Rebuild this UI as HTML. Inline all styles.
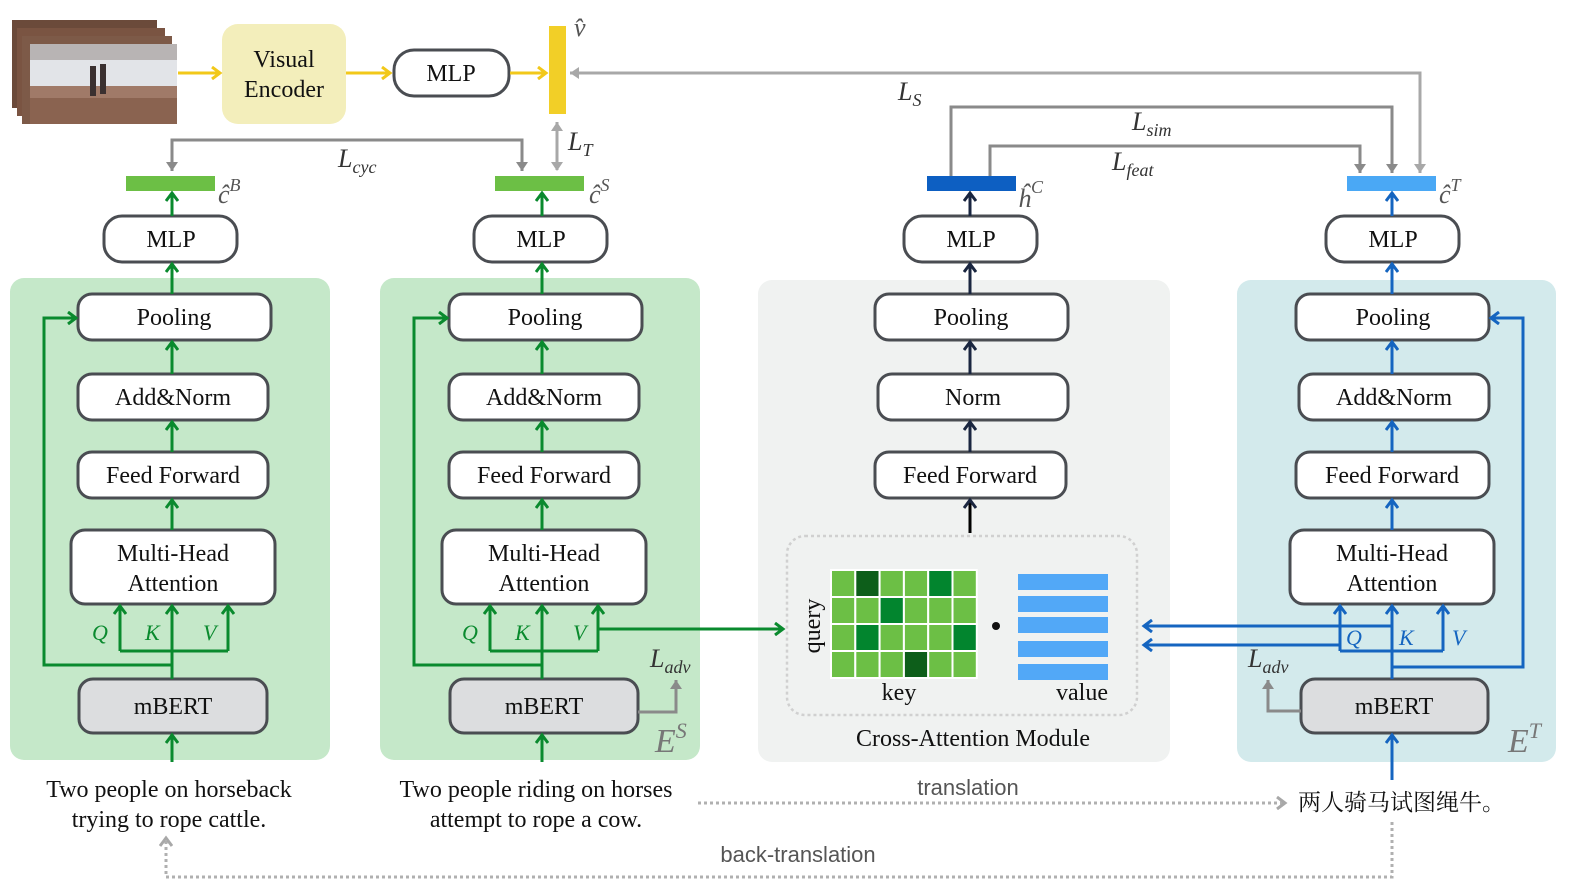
<!DOCTYPE html>
<html><head><meta charset="utf-8"><style>
html,body{margin:0;padding:0;background:#fff;overflow:hidden;width:1577px;height:894px}
svg{display:block}
.b{fill:#fff;stroke:#4a4d52;stroke-width:3}
.g{fill:#dcdddf;stroke:#4a4d52;stroke-width:3}
.t{font-family:"Liberation Serif",serif;font-size:24px;fill:#111;text-anchor:middle}
.i{font-family:"Liberation Serif",serif;font-style:italic}
.gr{stroke:#0a8a2e;stroke-width:3;fill:none}
.bl{stroke:#1565c0;stroke-width:3;fill:none}
.nv{stroke:#1a2640;stroke-width:3;fill:none}
.gy{stroke:#8a8a8a;stroke-width:3;fill:none}
.lg{stroke:#a8a8a8;stroke-width:3;fill:none}
.ye{stroke:#f2c81a;stroke-width:3;fill:none}
.dt{stroke:#b0b0b0;stroke-width:3;fill:none;stroke-dasharray:3 3}
</style></head><body>
<svg width="1577" height="894" viewBox="0 0 1577 894" xmlns="http://www.w3.org/2000/svg">
<defs>
<marker id="ag" markerWidth="14" markerHeight="14" refX="11" refY="7" orient="auto" markerUnits="userSpaceOnUse"><path d="M3,1 L11,7 L3,13" fill="none" stroke="#0a8a2e" stroke-width="3"/></marker>
<marker id="ab" markerWidth="14" markerHeight="14" refX="11" refY="7" orient="auto" markerUnits="userSpaceOnUse"><path d="M3,1 L11,7 L3,13" fill="none" stroke="#1565c0" stroke-width="3"/></marker>
<marker id="an" markerWidth="14" markerHeight="14" refX="11" refY="7" orient="auto" markerUnits="userSpaceOnUse"><path d="M3,1 L11,7 L3,13" fill="none" stroke="#1a2640" stroke-width="3"/></marker>
<marker id="ay" markerWidth="14" markerHeight="14" refX="11" refY="7" orient="auto" markerUnits="userSpaceOnUse"><path d="M3,1 L11,7 L3,13" fill="none" stroke="#f2c81a" stroke-width="3"/></marker>
<marker id="ay2" markerWidth="14" markerHeight="14" refX="11" refY="7" orient="auto" markerUnits="userSpaceOnUse"><path d="M2,1 L11,7 L2,13 Z" fill="#8a8a8a"/></marker>
<marker id="al" markerWidth="14" markerHeight="14" refX="11" refY="7" orient="auto" markerUnits="userSpaceOnUse"><path d="M2,1 L11,7 L2,13 Z" fill="#a8a8a8"/></marker>
<marker id="ald" markerWidth="14" markerHeight="14" refX="11" refY="7" orient="auto" markerUnits="userSpaceOnUse"><path d="M3,1 L11,7 L3,13" fill="none" stroke="#a8a8a8" stroke-width="3"/></marker>
<marker id="alds" markerWidth="14" markerHeight="14" refX="3" refY="7" orient="auto" markerUnits="userSpaceOnUse"><path d="M11,1 L2,7 L11,13 Z" fill="#a8a8a8"/></marker>
</defs>

<rect x="10" y="278" width="320" height="482" rx="14" fill="#c5e8c9"/>
<rect x="380" y="278" width="320" height="482" rx="14" fill="#c5e8c9"/>
<rect x="758" y="280" width="412" height="482" rx="14" fill="#f0f2f1"/>
<rect x="1237" y="280" width="319" height="482" rx="14" fill="#d3eaec"/>

<rect x="12" y="20" width="145" height="88" fill="#6b4a3a"/>
<rect x="17" y="28" width="148" height="88" fill="#7a5442"/>
<rect x="22" y="36" width="150" height="88" fill="#7d5a48"/>
<rect x="30" y="44" width="147" height="80" fill="#8a6350"/>
<rect x="30" y="44" width="147" height="16" fill="#b8b4b4"/>
<rect x="30" y="60" width="147" height="26" fill="#e2e4e8"/>
<rect x="30" y="86" width="147" height="12" fill="#a07a68"/>
<rect x="90" y="66" width="6" height="30" fill="#3a3030"/>
<rect x="100" y="64" width="6" height="30" fill="#3a3030"/>

<rect x="222" y="24" width="124" height="100" rx="16" fill="#f3eebb"/>
<text class="t" x="284" y="67">Visual</text>
<text class="t" x="284" y="97">Encoder</text>
<rect class="b" x="394" y="50" width="115" height="46" rx="20"/>
<text class="t" x="451" y="81">MLP</text>
<path class="ye" d="M178,73 L220,73" marker-end="url(#ay)"/>
<path class="ye" d="M346,73 L390,73" marker-end="url(#ay)"/>
<path class="ye" d="M510,73 L546,73" marker-end="url(#ay)"/>
<rect x="549" y="26" width="17" height="88" fill="#f2cf27"/>
<text class="i" x="574" y="36" font-size="26" fill="#555">v̂</text>

<path class="lg" d="M557,170 L557,122" marker-start="url(#alds)" marker-end="url(#al)"/>
<text class="i" x="568" y="150" font-size="26" fill="#333">L<tspan font-size="18" dy="6">T</tspan></text>

<path class="gy" d="M172,171 L172,140 L522,140 L522,171" marker-end="url(#ay2)"/>
<path class="gy" d="M180,140 L172,140 L172,171" marker-end="url(#ay2)"/>
<text class="i" x="338" y="167" font-size="26" fill="#333">L<tspan font-size="18" dy="6">cyc</tspan></text>

<path class="lg" d="M1420,173 L1420,73 L570,73" marker-end="url(#al)"/>
<path class="lg" d="M1420,90 L1420,173" marker-end="url(#al)"/>
<text class="i" x="898" y="100" font-size="26" fill="#333">L<tspan font-size="18" dy="6">S</tspan></text>
<path class="gy" d="M951,176 L951,107 L1392,107 L1392,173" marker-end="url(#ay2)"/>
<text class="i" x="1132" y="130" font-size="26" fill="#333">L<tspan font-size="18" dy="6">sim</tspan></text>
<path class="gy" d="M990,176 L990,146 L1360,146 L1360,173" marker-end="url(#ay2)"/>
<text class="i" x="1112" y="170" font-size="26" fill="#333">L<tspan font-size="18" dy="6">feat</tspan></text>

<rect x="126" y="176" width="89" height="15" fill="#6cbf45"/>
<text class="i" x="218" y="203" font-size="26" fill="#555">ĉ<tspan font-size="18" dy="-12">B</tspan></text>
<rect x="495" y="176" width="89" height="15" fill="#6cbf45"/>
<text class="i" x="589" y="203" font-size="26" fill="#555">ĉ<tspan font-size="18" dy="-12">S</tspan></text>
<rect x="927" y="176" width="89" height="15" fill="#0d5fc2"/>
<text class="i" x="1018" y="207" font-size="26" fill="#555">ĥ<tspan font-size="18" dy="-14">C</tspan></text>
<rect x="1347" y="176" width="89" height="15" fill="#4aa8f5"/>
<text class="i" x="1439" y="203" font-size="26" fill="#555">ĉ<tspan font-size="18" dy="-12">T</tspan></text>

<g>
<rect class="b" x="104" y="216" width="133" height="46" rx="18"/><text class="t" x="171" y="247">MLP</text>
<rect class="b" x="78" y="294" width="193" height="46" rx="14"/><text class="t" x="174" y="325">Pooling</text>
<rect class="b" x="78" y="374" width="190" height="46" rx="14"/><text class="t" x="173" y="405">Add&amp;Norm</text>
<rect class="b" x="78" y="452" width="190" height="46" rx="14"/><text class="t" x="173" y="483">Feed Forward</text>
<rect class="b" x="71" y="530" width="204" height="74" rx="14"/><text class="t" x="173" y="561">Multi-Head</text><text class="t" x="173" y="591">Attention</text>
<rect class="g" x="79" y="679" width="188" height="54" rx="14"/><text class="t" x="173" y="714">mBERT</text>
<path class="gr" d="M172,216 L172,193" marker-end="url(#ag)"/>
<path class="gr" d="M172,294 L172,264" marker-end="url(#ag)"/>
<path class="gr" d="M172,374 L172,342" marker-end="url(#ag)"/>
<path class="gr" d="M172,452 L172,422" marker-end="url(#ag)"/>
<path class="gr" d="M172,530 L172,500" marker-end="url(#ag)"/>
<path class="gr" d="M172,679 L172,606" marker-end="url(#ag)"/>
<path class="gr" d="M120,651 L120,606" marker-end="url(#ag)"/>
<path class="gr" d="M228,651 L228,606" marker-end="url(#ag)"/>
<path class="gr" d="M120,651 L228,651"/>
<path class="gr" d="M172,665 L44,665 L44,318 L76,318" marker-end="url(#ag)"/>
<path class="gr" d="M172,762 L172,735" marker-end="url(#ag)"/>
<text class="i" x="92" y="640" font-size="22" fill="#0a8a2e">Q</text>
<text class="i" x="145" y="640" font-size="22" fill="#0a8a2e">K</text>
<text class="i" x="203" y="640" font-size="22" fill="#0a8a2e">V</text>
<text class="t" x="169" y="797">Two people on horseback</text>
<text class="t" x="169" y="827">trying to rope cattle.</text>
</g>

<g>
<rect class="b" x="474" y="216" width="133" height="46" rx="18"/><text class="t" x="541" y="247">MLP</text>
<rect class="b" x="449" y="294" width="193" height="46" rx="14"/><text class="t" x="545" y="325">Pooling</text>
<rect class="b" x="449" y="374" width="190" height="46" rx="14"/><text class="t" x="544" y="405">Add&amp;Norm</text>
<rect class="b" x="449" y="452" width="190" height="46" rx="14"/><text class="t" x="544" y="483">Feed Forward</text>
<rect class="b" x="442" y="530" width="204" height="74" rx="14"/><text class="t" x="544" y="561">Multi-Head</text><text class="t" x="544" y="591">Attention</text>
<rect class="g" x="450" y="679" width="188" height="54" rx="14"/><text class="t" x="544" y="714">mBERT</text>
<path class="gr" d="M542,216 L542,193" marker-end="url(#ag)"/>
<path class="gr" d="M542,294 L542,264" marker-end="url(#ag)"/>
<path class="gr" d="M542,374 L542,342" marker-end="url(#ag)"/>
<path class="gr" d="M542,452 L542,422" marker-end="url(#ag)"/>
<path class="gr" d="M542,530 L542,500" marker-end="url(#ag)"/>
<path class="gr" d="M542,679 L542,606" marker-end="url(#ag)"/>
<path class="gr" d="M490,651 L490,606" marker-end="url(#ag)"/>
<path class="gr" d="M598,651 L598,606" marker-end="url(#ag)"/>
<path class="gr" d="M490,651 L598,651"/>
<path class="gr" d="M598,629 L783,629" marker-end="url(#ag)"/>
<path class="gr" d="M542,665 L414,665 L414,318 L447,318" marker-end="url(#ag)"/>
<path class="gr" d="M542,762 L542,735" marker-end="url(#ag)"/>
<path class="gy" d="M638,712 L676,712 L676,680" marker-end="url(#ay2)"/>
<text class="i" x="650" y="667" font-size="26" fill="#333">L<tspan font-size="18" dy="6">adv</tspan></text>
<text class="i" x="655" y="752" font-size="34" fill="#777">E<tspan font-size="22" dy="-14">S</tspan></text>
<text class="i" x="462" y="640" font-size="22" fill="#0a8a2e">Q</text>
<text class="i" x="515" y="640" font-size="22" fill="#0a8a2e">K</text>
<text class="i" x="573" y="640" font-size="22" fill="#0a8a2e">V</text>
<text class="t" x="536" y="797">Two people riding on horses</text>
<text class="t" x="536" y="827">attempt to rope a cow.</text>
</g>

<g>
<rect class="b" x="904" y="216" width="133" height="46" rx="18"/><text class="t" x="971" y="247">MLP</text>
<rect class="b" x="875" y="294" width="193" height="46" rx="14"/><text class="t" x="971" y="325">Pooling</text>
<rect class="b" x="878" y="374" width="190" height="46" rx="14"/><text class="t" x="973" y="405">Norm</text>
<rect class="b" x="875" y="452" width="191" height="46" rx="14"/><text class="t" x="970" y="483">Feed Forward</text>
<path class="nv" d="M970,216 L970,193" marker-end="url(#an)"/>
<path class="nv" d="M970,294 L970,264" marker-end="url(#an)"/>
<path class="nv" d="M970,374 L970,342" marker-end="url(#an)"/>
<path class="nv" d="M970,452 L970,422" marker-end="url(#an)"/>
<path class="nv" d="M970,533 L970,500" marker-end="url(#an)" style="stroke:#000"/>
<rect x="787" y="536" width="350" height="179" rx="18" fill="none" stroke="#d0d0d0" stroke-width="2.5" stroke-dasharray="3 3"/>
<g stroke="#fff" stroke-width="2">
<rect x="831" y="570" width="24.3" height="27" fill="#6cbf45"/><rect x="855.3" y="570" width="24.3" height="27" fill="#0d5e1a"/><rect x="879.6" y="570" width="24.3" height="27" fill="#6cbf45"/><rect x="903.9" y="570" width="24.3" height="27" fill="#6cbf45"/><rect x="928.2" y="570" width="24.3" height="27" fill="#02852e"/><rect x="952.5" y="570" width="24.3" height="27" fill="#6cbf45"/>
<rect x="831" y="597" width="24.3" height="27" fill="#6cbf45"/><rect x="855.3" y="597" width="24.3" height="27" fill="#6cbf45"/><rect x="879.6" y="597" width="24.3" height="27" fill="#02852e"/><rect x="903.9" y="597" width="24.3" height="27" fill="#6cbf45"/><rect x="928.2" y="597" width="24.3" height="27" fill="#6cbf45"/><rect x="952.5" y="597" width="24.3" height="27" fill="#6cbf45"/>
<rect x="831" y="624" width="24.3" height="27" fill="#6cbf45"/><rect x="855.3" y="624" width="24.3" height="27" fill="#02852e"/><rect x="879.6" y="624" width="24.3" height="27" fill="#6cbf45"/><rect x="903.9" y="624" width="24.3" height="27" fill="#6cbf45"/><rect x="928.2" y="624" width="24.3" height="27" fill="#6cbf45"/><rect x="952.5" y="624" width="24.3" height="27" fill="#02852e"/>
<rect x="831" y="651" width="24.3" height="27" fill="#6cbf45"/><rect x="855.3" y="651" width="24.3" height="27" fill="#6cbf45"/><rect x="879.6" y="651" width="24.3" height="27" fill="#6cbf45"/><rect x="903.9" y="651" width="24.3" height="27" fill="#0d5e1a"/><rect x="928.2" y="651" width="24.3" height="27" fill="#6cbf45"/><rect x="952.5" y="651" width="24.3" height="27" fill="#6cbf45"/>
</g>
<g fill="#52a8f7">
<rect x="1018" y="574" width="90" height="16"/><rect x="1018" y="596" width="90" height="16"/><rect x="1018" y="617" width="90" height="16"/><rect x="1018" y="641" width="90" height="16"/><rect x="1018" y="664" width="90" height="16"/>
</g>
<circle cx="996" cy="626" r="4" fill="#111"/>
<text class="t" transform="translate(820,626) rotate(-90)" font-size="22">query</text>
<text class="t" x="899" y="700">key</text>
<text class="t" x="1082" y="700">value</text>
<text class="t" x="973" y="746">Cross-Attention Module</text>
</g>

<g>
<rect class="b" x="1326" y="216" width="133" height="46" rx="18"/><text class="t" x="1393" y="247">MLP</text>
<rect class="b" x="1296" y="294" width="193" height="46" rx="14"/><text class="t" x="1393" y="325">Pooling</text>
<rect class="b" x="1299" y="374" width="190" height="46" rx="14"/><text class="t" x="1394" y="405">Add&amp;Norm</text>
<rect class="b" x="1296" y="452" width="193" height="46" rx="14"/><text class="t" x="1392" y="483">Feed Forward</text>
<rect class="b" x="1290" y="530" width="204" height="74" rx="14"/><text class="t" x="1392" y="561">Multi-Head</text><text class="t" x="1392" y="591">Attention</text>
<rect class="g" x="1301" y="679" width="187" height="54" rx="14"/><text class="t" x="1394" y="714">mBERT</text>
<path class="bl" d="M1392,216 L1392,193" marker-end="url(#ab)"/>
<path class="bl" d="M1392,294 L1392,264" marker-end="url(#ab)"/>
<path class="bl" d="M1392,374 L1392,342" marker-end="url(#ab)"/>
<path class="bl" d="M1392,452 L1392,422" marker-end="url(#ab)"/>
<path class="bl" d="M1392,530 L1392,500" marker-end="url(#ab)"/>
<path class="bl" d="M1392,679 L1392,606" marker-end="url(#ab)"/>
<path class="bl" d="M1340,651 L1340,606" marker-end="url(#ab)"/>
<path class="bl" d="M1443,651 L1443,606" marker-end="url(#ab)"/>
<path class="bl" d="M1340,651 L1443,651"/>
<path class="bl" d="M1392,626 L1144,626" marker-end="url(#ab)"/>
<path class="bl" d="M1340,645 L1144,645" marker-end="url(#ab)"/>
<path class="bl" d="M1392,667 L1523,667 L1523,318 L1491,318" marker-end="url(#ab)"/>
<path class="bl" d="M1392,780 L1392,735" marker-end="url(#ab)"/>
<path class="gy" d="M1301,711 L1268,711 L1268,680" marker-end="url(#ay2)"/>
<text class="i" x="1248" y="667" font-size="26" fill="#333">L<tspan font-size="18" dy="6">adv</tspan></text>
<text class="i" x="1508" y="752" font-size="34" fill="#777">E<tspan font-size="22" dy="-14">T</tspan></text>
<text class="i" x="1346" y="645" font-size="22" fill="#1565c0">Q</text>
<text class="i" x="1399" y="645" font-size="22" fill="#1565c0">K</text>
<text class="i" x="1452" y="645" font-size="22" fill="#1565c0">V</text>
<text x="1298" y="810" font-family="'Liberation Serif','Noto Serif CJK SC','Noto Sans CJK SC',serif" font-size="23" fill="#111">两人骑马试图绳牛。</text>
</g>

<path class="dt" d="M698,803 L1285,803" marker-end="url(#ald)"/>
<text x="968" y="795" font-family="'Liberation Sans',sans-serif" font-size="22" fill="#555" text-anchor="middle">translation</text>
<path class="dt" d="M1392,822 L1392,877 L166,877 L166,838" marker-end="url(#ald)"/>
<text x="798" y="862" font-family="'Liberation Sans',sans-serif" font-size="22" fill="#555" text-anchor="middle">back-translation</text>
</svg>
</body></html>
